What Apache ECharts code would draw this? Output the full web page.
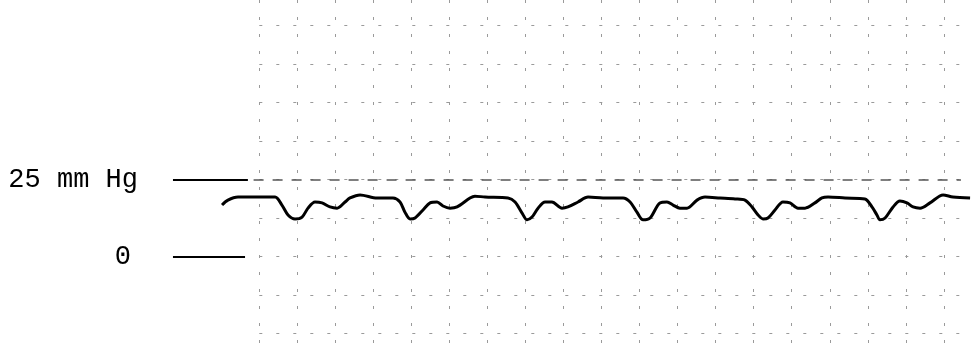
<!DOCTYPE html>
<html>
<head>
<meta charset="utf-8">
<script src="https://cdn.jsdelivr.net/npm/echarts@6/dist/echarts.min.js"></script>
<style>
  html, body { margin: 0; padding: 0; background: #fff; }
  #chart { width: 973px; height: 354px; }
</style>
</head>
<body>
<div id="chart"></div>
<script>
// Pressure trace: time in seconds, pressure in mmHg
const timeSec = [
  -0.196, -0.165, -0.112, -0.007, 0.083, 0.119, 0.151, 0.188, 0.225, 0.256,
  0.293, 0.330, 0.372, 0.409, 0.451, 0.477, 0.530, 0.619, 0.703, 0.740,
  0.766, 0.793, 0.819, 0.861, 0.898, 0.935, 0.966, 1.003, 1.040, 1.108,
  1.134, 1.187, 1.308, 1.345, 1.382, 1.408, 1.434, 1.466, 1.503, 1.539,
  1.592, 1.623, 1.676, 1.729, 1.808, 1.913, 1.950, 1.986, 2.018, 2.055,
  2.107, 2.144, 2.176, 2.212, 2.249, 2.302, 2.344, 2.423, 2.502, 2.554,
  2.591, 2.623, 2.649, 2.675, 2.712, 2.754, 2.791, 2.833, 2.870, 2.922,
  2.959, 2.991, 3.080, 3.185, 3.222, 3.248, 3.264, 3.291, 3.333, 3.369,
  3.406, 3.438, 3.475, 3.527, 3.596, 3.648, 3.738
];
const pressureMmHg = [
  16.7, 18.3, 19.3, 19.3, 19.3, 16.7, 13.5, 12.2, 12.8, 15.7,
  17.7, 17.4, 16.1, 15.7, 17.7, 19.0, 20.0, 19.0, 19.0, 17.7,
  14.4, 12.2, 12.5, 15.1, 17.4, 17.7, 16.4, 15.7, 16.1, 19.0,
  19.6, 19.3, 19.0, 17.7, 14.1, 11.9, 12.8, 15.7, 17.7, 17.7,
  15.7, 16.1, 17.7, 19.3, 19.0, 19.0, 17.7, 14.4, 11.9, 12.5,
  17.4, 17.7, 16.7, 15.7, 15.7, 18.3, 19.3, 19.0, 18.7, 18.3,
  16.1, 13.5, 12.2, 12.5, 15.1, 17.7, 17.4, 15.7, 15.7, 17.4,
  19.0, 19.3, 19.0, 18.7, 16.1, 13.5, 11.9, 12.5, 16.1, 18.0,
  17.4, 16.1, 15.7, 17.4, 20.0, 19.3, 19.0
];

// Calibration marks drawn at the left of the trace
const calibLevels = [25, 0];
const calibLabels = ['25 mm Hg', '0'];
const calibStart = [-0.454, -0.454];
const calibEnd = [-0.060, -0.075];
// Ruled 25 mmHg line continuing across the paper
const rulingLevel = 25;
const rulingSpan = [-0.030, 3.690];

// Chart-paper ruling
const paperTimeStep = 0.2;    // s
const paperPressStep = 12.5;  // mmHg
const paperPressMin = -25;    // lowest ruled line, mmHg

// Layout: paper scale in pixels
const W = 973, H = 354;
const PX_PER_S = 190.15;
const T0_PX = 259.3;          // x pixel of t = 0
const PX_PER_MMHG = 3.08;
const P0_PX = 256.5;          // y pixel of 0 mmHg

const fullXMin = -T0_PX / PX_PER_S;
const fullXMax = (W - T0_PX) / PX_PER_S;
const fullYMax = P0_PX / PX_PER_MMHG;
const fullYMin = -(H - P0_PX) / PX_PER_MMHG;
const hRuleRight = 12;        // horizontal rulings stop short of the edge

const chart = echarts.init(document.getElementById('chart'), null, { renderer: 'canvas' });

const paperStyle = { color: '#9a9a9a', width: 1, type: [3, 14] };
const hidden = { show: false };

chart.setOption({
  animation: false,
  backgroundColor: '#ffffff',
  grid: [
    // data
    { left: 0, right: 0, top: 0, bottom: 0 },
    // vertical rulings
    { left: T0_PX, right: 0, top: 0, bottom: 0 },
    // horizontal rulings
    {
      left: T0_PX, right: hRuleRight, top: 0,
      bottom: H - (P0_PX - paperPressMin * PX_PER_MMHG)
    }
  ],
  xAxis: [
    { gridIndex: 0, type: 'value', min: fullXMin, max: fullXMax, show: false },
    {
      gridIndex: 1, type: 'value', min: 0, max: fullXMax, interval: paperTimeStep,
      axisLine: hidden, axisTick: hidden, axisLabel: hidden,
      splitLine: { show: true, showMinLine: true, showMaxLine: false, lineStyle: paperStyle }
    },
    {
      gridIndex: 2, type: 'value', min: 0, max: 1,
      axisLine: hidden, axisTick: hidden, axisLabel: hidden, splitLine: hidden
    }
  ],
  yAxis: [
    { gridIndex: 0, type: 'value', min: fullYMin, max: fullYMax, show: false },
    {
      gridIndex: 1, type: 'value', min: 0, max: 1,
      axisLine: hidden, axisTick: hidden, axisLabel: hidden, splitLine: hidden
    },
    {
      gridIndex: 2, type: 'value', min: paperPressMin, max: fullYMax, interval: paperPressStep,
      axisLine: hidden, axisTick: hidden, axisLabel: hidden,
      splitLine: { show: true, showMinLine: true, showMaxLine: false, lineStyle: paperStyle }
    }
  ],
  series: [
    {
      type: 'line',
      xAxisIndex: 0,
      yAxisIndex: 0,
      data: timeSec.map((t, i) => [t, pressureMmHg[i]]),
      showSymbol: false,
      smooth: 0.3,
      lineStyle: { color: '#000', width: 3 },
      silent: true,
      z: 5,
      markLine: {
        silent: true,
        symbol: ['none', 'none'],
        data: calibLevels.map((lvl, i) => [
          {
            coord: [calibStart[i], lvl],
            lineStyle: { color: '#000', width: 2, type: 'solid' },
            label: {
              show: true,
              position: 'start',
              formatter: calibLabels[i],
              distance: i === 0 ? 35 : 42,
              color: '#000',
              fontFamily: 'Liberation Mono',
              fontSize: 27
            }
          },
          { coord: [calibEnd[i], lvl] }
        ]).concat([[
          {
            coord: [rulingSpan[0], rulingLevel],
            lineStyle: { color: '#555', width: 1.5, type: [10, 9] },
            label: { show: false }
          },
          { coord: [rulingSpan[1], rulingLevel] }
        ]])
      }
    }
  ]
});
</script>
</body>
</html>
